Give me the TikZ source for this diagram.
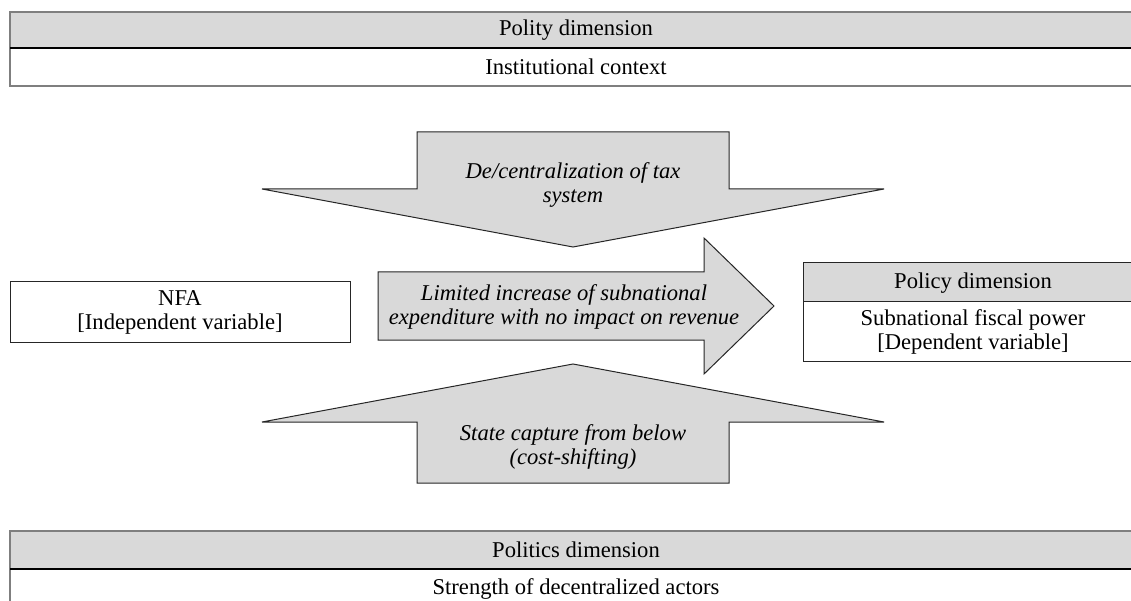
\documentclass[tikz,border=0pt]{standalone}
\usepackage{fontspec}
\setmainfont{Liberation Serif}
\definecolor{panelgray}{HTML}{D9D9D9}
\definecolor{rulegray}{HTML}{7F7F7F}
\begin{document}
\begin{tikzpicture}[x=1pt,y=-1pt,
  every node/.style={inner sep=0pt, align=center, font=\fontsize{22.6}{24}\selectfont},
  label text/.style={font=\fontsize{22.6}{24.5}\selectfont\itshape},
  bar edge/.style={draw=rulegray, line width=1.6pt},
  bar rule/.style={draw=black, line width=1.6pt},
  flow shape/.style={fill=panelgray, draw=black!85, line width=1pt, line join=miter},
  plain box/.style={draw=black!85, line width=1pt}]
\useasboundingbox (0,0) rectangle (1131,601);

% polity band along the top
\fill[panelgray] (10,12) rectangle (1145,48);
\draw[bar edge] (1145,12) -- (10,12) -- (10,86) -- (1145,86);
\draw[bar rule] (10,48) -- (1145,48);
\node (polity) at (576,30) {Polity dimension};
\node (context) at (576,67) {Institutional context};

% politics band along the bottom
\fill[panelgray] (10,531) rectangle (1145,569);
\draw[bar edge] (1145,531) -- (10,531) -- (10,610);
\draw[bar rule] (10,569) -- (1145,569);
\node (politics) at (576,550) {Politics dimension};
\node (actors) at (576,589) {Strength of decentralized actors};

% downward pressure: tax system
\coordinate (dtip) at (573,247);
\draw[flow shape] (417,132) -- (729,132) -- (729,189) -- (884,189) -- (dtip)
  -- (262,189) -- (417,189) -- cycle;
\node[label text] (tax) at (573,185) {De/centralization of tax\\system};

% upward pressure: state capture
\coordinate (utip) at (573,364);
\draw[flow shape] (417,483) -- (729,483) -- (729,422) -- (884,422) -- (utip)
  -- (262,422) -- (417,422) -- cycle;
\node[label text] (capture) at (573,447) {State capture from below\\(cost-shifting)};

% main causal arrow
\coordinate (rtip) at (774,306);
\draw[flow shape] (378,272) -- (704,272) -- (704,238) -- (rtip) -- (704,374)
  -- (704,340) -- (378,340) -- cycle;
\node[label text] (effect) at (564,307) {Limited increase of subnational\\expenditure with no impact on revenue};

% independent variable
\node[plain box, minimum width=340pt, minimum height=60pt] (nfa) at (180,312)
  {NFA\\{[Independent variable]}};

% dependent variable
\fill[panelgray] (803,263) rectangle (1145,301);
\draw[plain box] (1145,263) -- (803,263) -- (803,361) -- (1145,361);
\draw[plain box] (803,301) -- (1145,301);
\node (policy) at (973,283) {Policy dimension};
\node (power) at (973,332) {Subnational fiscal power\\{[Dependent variable]}};
\end{tikzpicture}
\end{document}
